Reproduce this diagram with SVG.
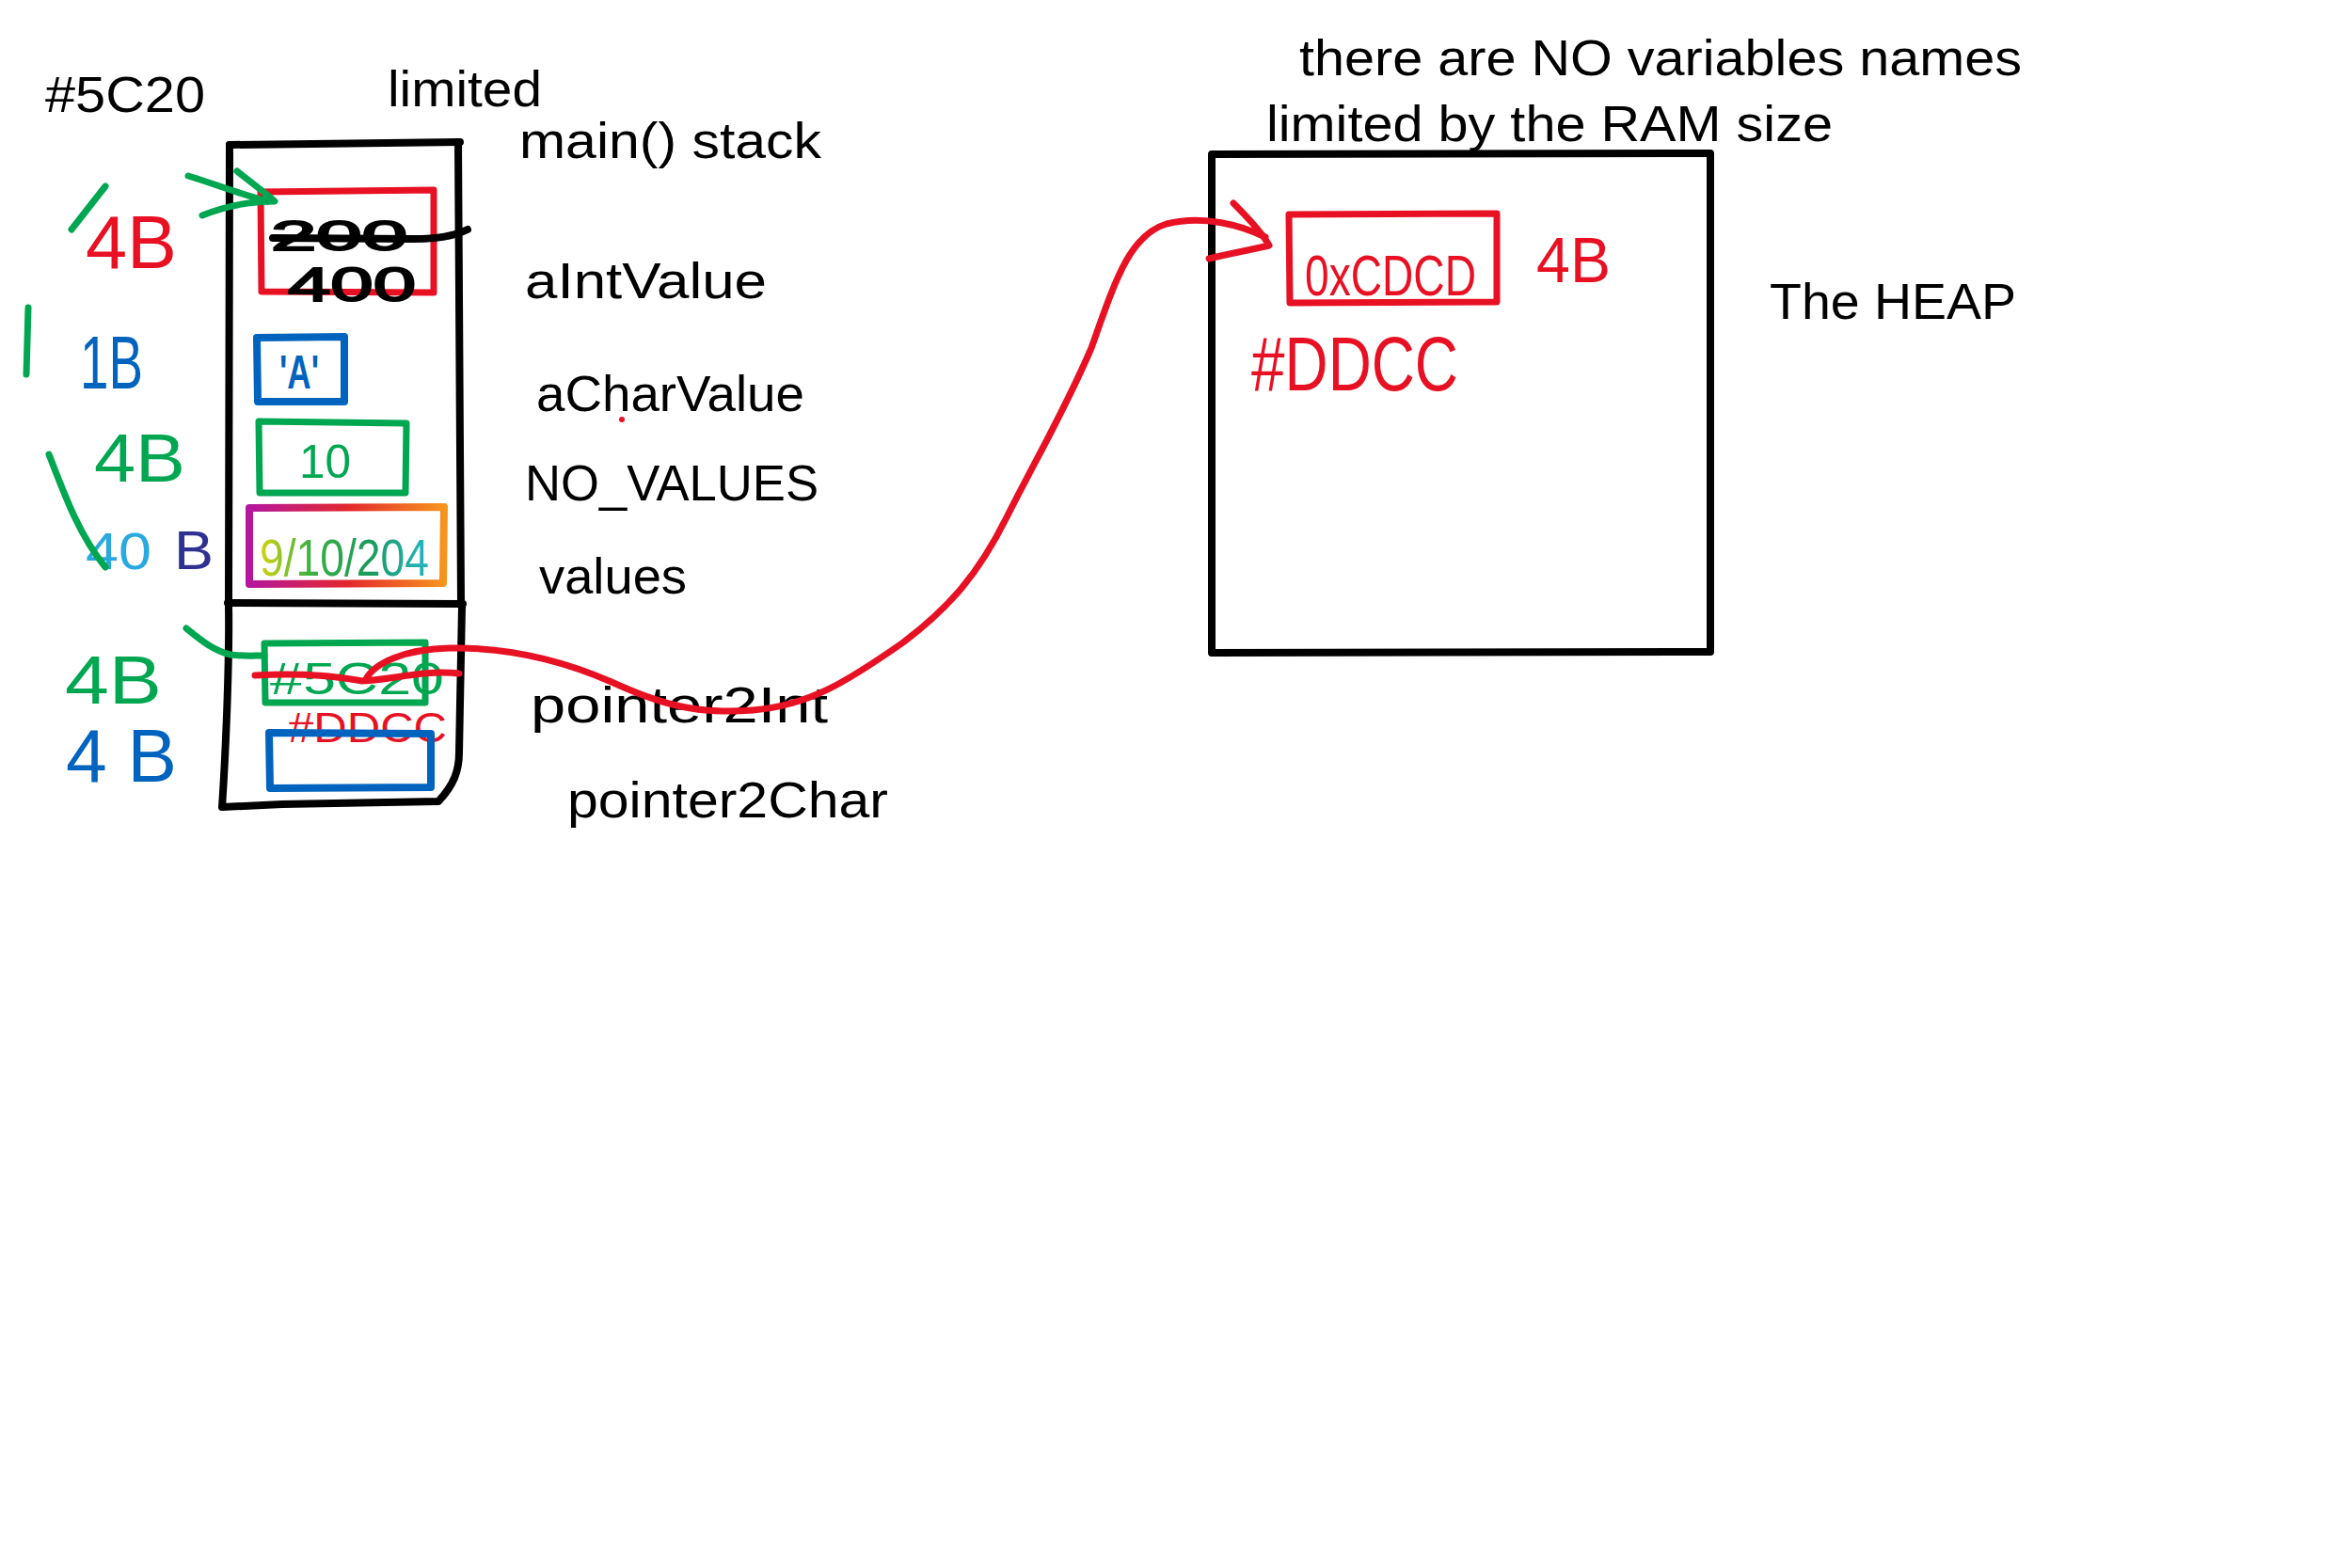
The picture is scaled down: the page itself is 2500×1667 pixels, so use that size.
<svg xmlns="http://www.w3.org/2000/svg" width="2500" height="1667" viewBox="0 0 2500 1667">
<defs>
<style>
.hw{font-family:"Liberation Sans","DejaVu Sans",sans-serif;fill:#000;}
.lbl{font-size:54px;}
.pen{fill:none;stroke-linecap:round;stroke-linejoin:round;}
.blk{stroke:#000;stroke-width:8;}
.red{stroke:#e81123;stroke-width:7;}
.grn{stroke:#00a650;stroke-width:7;}
.blu{stroke:#0063be;stroke-width:8;}
.tr{fill:#e81123;}
.tg{fill:#00a650;}
.tb{fill:#0063be;}
</style>
<linearGradient id="rainbow" x1="0" y1="0" x2="1" y2="0">
<stop offset="0" stop-color="#b5179e"/>
<stop offset="0.5" stop-color="#e3262e"/>
<stop offset="1" stop-color="#f7941d"/>
</linearGradient>
<linearGradient id="rainbowText" x1="0" y1="0" x2="1" y2="0">
<stop offset="0" stop-color="#d4d40f"/>
<stop offset="0.3" stop-color="#3cb043"/>
<stop offset="0.65" stop-color="#1a9a5a"/>
<stop offset="1" stop-color="#25b5c8"/>
</linearGradient>
</defs>
<rect width="2500" height="1667" fill="#fff"/>

<!-- Stack frame -->
<g id="stack">
<path class="pen blk" d="M244,154 L489,151"/>
<path class="pen blk" d="M244,154 L243,641"/>
<path class="pen blk" d="M487,151 L490,641"/>
<path class="pen blk" stroke-width="9" d="M242,641 L492,642"/>
<path class="pen blk" stroke-width="6" d="M243,644 C244,700 240,800 236,858 L300,855 L466,852 C482,835 488,820 488,800 L491,645"/>
<text class="hw lbl" x="412" y="113" textLength="164" lengthAdjust="spacingAndGlyphs">limited</text>
<text class="hw lbl" x="552" y="168" textLength="321" lengthAdjust="spacingAndGlyphs">main() stack</text>
<text class="hw lbl" x="48" y="119" textLength="170" lengthAdjust="spacingAndGlyphs">#5C20</text>
</g>

<!-- aIntValue -->
<g id="aIntValue">
<path class="pen red" d="M277,204 L461,202 L461,311 L278,310 Z"/>
<text class="hw" x="288" y="266" font-size="44" textLength="145" lengthAdjust="spacingAndGlyphs" stroke="#000" stroke-width="2">200</text>
<path class="pen blk" stroke-width="6" d="M290,253 L440,254 C470,254 485,250 497,244"/>
<text class="hw" x="306" y="320" font-size="50" textLength="136" lengthAdjust="spacingAndGlyphs" stroke="#000" stroke-width="2">400</text>
<text class="hw lbl" x="558" y="317" textLength="257" lengthAdjust="spacingAndGlyphs">aIntValue</text>
<text class="hw tr" x="91" y="285" font-size="80" textLength="97" lengthAdjust="spacingAndGlyphs">4B</text>
</g>

<!-- aCharValue -->
<g id="aCharValue">
<path class="pen blu" d="M273,359 L366,358 L366,427 L274,427 Z"/>
<text class="hw tb" x="297" y="413" font-size="50" textLength="42" lengthAdjust="spacingAndGlyphs" font-weight="bold">'A'</text>
<text class="hw lbl" x="570" y="437" textLength="285" lengthAdjust="spacingAndGlyphs">aCharValue</text>
<circle cx="661" cy="446" r="3" fill="#e81123"/>
<text class="hw tb" x="85" y="413" font-size="80" textLength="67" lengthAdjust="spacingAndGlyphs">1B</text>
</g>

<!-- NO_VALUES -->
<g id="NO_VALUES">
<path class="pen grn" d="M275,448 L432,450 L431,524 L276,524 Z"/>
<text class="hw tg" x="318" y="508" font-size="50" textLength="55" lengthAdjust="spacingAndGlyphs">10</text>
<text class="hw lbl" x="558" y="532" textLength="312" lengthAdjust="spacingAndGlyphs">NO_VALUES</text>
<text class="hw tg" x="100" y="512" font-size="72" textLength="97" lengthAdjust="spacingAndGlyphs">4B</text>
</g>

<!-- values -->
<g id="values">
<path class="pen" stroke="url(#rainbow)" stroke-width="8" stroke-linecap="round" d="M265,540 L472,539 L471,620 L265,621 Z"/>
<text x="276" y="612" font-family="Liberation Sans, sans-serif" font-size="56" fill="url(#rainbowText)" textLength="180" lengthAdjust="spacingAndGlyphs">9/10/204</text>
<text class="hw lbl" x="573" y="631" textLength="157" lengthAdjust="spacingAndGlyphs">values</text>
<text x="91" y="605" font-family="Liberation Sans, sans-serif" font-size="56" fill="#29a9e0" textLength="70" lengthAdjust="spacingAndGlyphs">40</text>
<text x="185" y="605" font-family="Liberation Sans, sans-serif" font-size="58" fill="#2e3192" textLength="42" lengthAdjust="spacingAndGlyphs">B</text>
</g>

<!-- pointer2Int -->
<g id="pointer2Int">
<path class="pen grn" d="M281,684 L452,683 L452,747 L282,747 Z"/>
<text class="hw tg" x="287" y="738" font-size="48" textLength="185" lengthAdjust="spacingAndGlyphs">#5C20</text>
<text class="hw tr" x="306" y="789" font-size="44" textLength="169" lengthAdjust="spacingAndGlyphs">#DDCC</text>
<text class="hw lbl" x="564" y="768" textLength="316" lengthAdjust="spacingAndGlyphs">pointer2Int</text>
<text class="hw tg" x="69" y="748" font-size="72" textLength="103" lengthAdjust="spacingAndGlyphs">4B</text>
</g>

<!-- pointer2Char -->
<g id="pointer2Char">
<path class="pen blu" d="M286,779 L458,780 L458,837 L287,838 Z"/>
<text class="hw lbl" x="603" y="869" textLength="341" lengthAdjust="spacingAndGlyphs">pointer2Char</text>
<text class="hw tb" x="70" y="831" font-size="80" textLength="118" lengthAdjust="spacingAndGlyphs">4 B</text>
</g>

<!-- Heap -->
<g id="heap">
<path class="pen blk" d="M1288,164 L1818,163 L1818,693 L1288,694 Z"/>
<text class="hw lbl" x="1381" y="80" textLength="768" lengthAdjust="spacingAndGlyphs">there are NO variables names</text>
<text class="hw lbl" x="1346" y="150" textLength="602" lengthAdjust="spacingAndGlyphs">limited by the RAM size</text>
<text class="hw lbl" x="1881" y="339" textLength="262" lengthAdjust="spacingAndGlyphs">The HEAP</text>
</g>

<g id="heapInt">
<path class="pen red" d="M1370,228 L1591,227 L1591,321 L1371,322 Z"/>
<text class="hw tr" x="1387" y="314" font-size="62" textLength="182" lengthAdjust="spacingAndGlyphs">0xCDCD</text>
<text class="hw tr" x="1633" y="300" font-size="68" textLength="79" lengthAdjust="spacingAndGlyphs">4B</text>
<text class="hw tr" x="1330" y="415" font-size="82" textLength="220" lengthAdjust="spacingAndGlyphs">#DDCC</text>
</g>

<!-- Side marks -->
<g id="marks">
<path class="pen grn" d="M76,244 L112,198"/>
<path class="pen grn" d="M30,327 L28,398"/>
<path class="pen grn" d="M52,483 C70,530 85,570 112,603"/>
</g>

<!-- Connectors -->
<g id="connectors">
<path class="pen grn" d="M200,187 C230,196 250,205 285,214"/>
<path class="pen grn" d="M252,182 C268,195 282,205 292,214 C270,214 245,217 215,229"/>
<path class="pen grn" d="M198,668 C215,682 228,692 245,696 C260,698 270,697 281,697"/>
<path class="pen red" d="M271,718 C330,715 360,720 385,724 C420,722 450,712 488,716"/>
<path class="pen red" d="M389,722 C398,705 430,690 478,689 C540,688 600,703 650,725 C700,748 740,760 800,755 C860,750 900,725 960,683 C1010,645 1040,610 1070,550 C1100,490 1130,440 1160,370 C1185,300 1200,250 1240,238 C1280,228 1320,240 1345,252"/>
<path class="pen red" d="M1311,216 C1330,235 1342,248 1349,261 C1328,266 1305,270 1285,275"/>
</g>
</svg>
